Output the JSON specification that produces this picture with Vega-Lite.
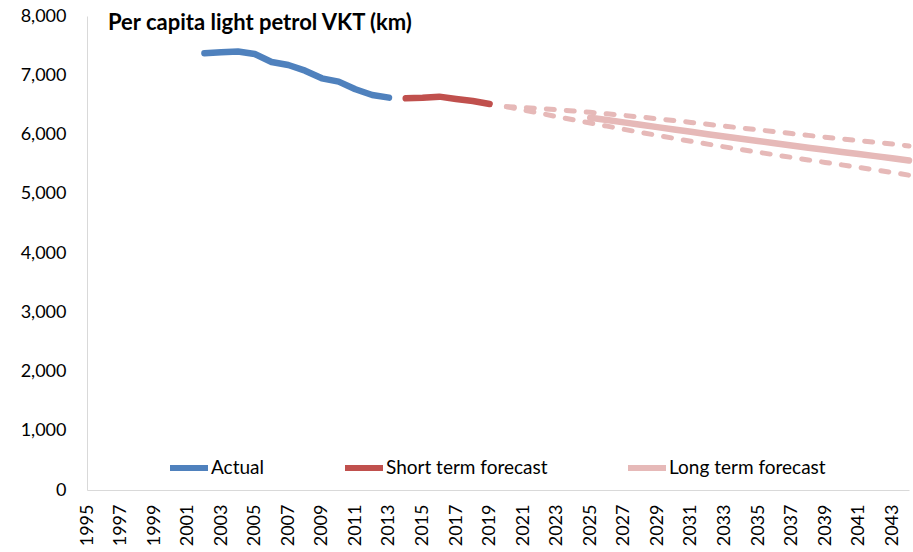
{
  "$schema": "https://vega.github.io/schema/vega-lite/v6.json",
  "width": 822,
  "height": 474,
  "autosize": {"type": "none"},
  "padding": {"left": 87, "top": 16, "right": 4, "bottom": 62},
  "background": "white",
  "title": {
    "text": "Per capita light petrol VKT (km)",
    "anchor": "start",
    "frame": "group",
    "orient": "top",
    "offset": -29,
    "baseline": "alphabetic",
    "dx": 21,
    "dy": 16,
    "font": "Lato",
    "fontSize": 22,
    "fontWeight": "bold",
    "color": "#000000"
  },
  "config": {
    "view": {"stroke": null},
    "font": "Lato"
  },
  "datasets": {
    "main": [
      {"year": 2002, "value": 7370, "series": "Actual"},
      {"year": 2003, "value": 7387, "series": "Actual"},
      {"year": 2004, "value": 7400, "series": "Actual"},
      {"year": 2005, "value": 7358, "series": "Actual"},
      {"year": 2006, "value": 7224, "series": "Actual"},
      {"year": 2007, "value": 7173, "series": "Actual"},
      {"year": 2008, "value": 7077, "series": "Actual"},
      {"year": 2009, "value": 6948, "series": "Actual"},
      {"year": 2010, "value": 6892, "series": "Actual"},
      {"year": 2011, "value": 6763, "series": "Actual"},
      {"year": 2012, "value": 6667, "series": "Actual"},
      {"year": 2013, "value": 6622, "series": "Actual"},
      {"year": 2014, "value": 6611, "series": "Short term forecast"},
      {"year": 2015, "value": 6620, "series": "Short term forecast"},
      {"year": 2016, "value": 6639, "series": "Short term forecast"},
      {"year": 2017, "value": 6600, "series": "Short term forecast"},
      {"year": 2018, "value": 6565, "series": "Short term forecast"},
      {"year": 2019, "value": 6515, "series": "Short term forecast"},
      {"year": 2025, "value": 6284, "series": "Long term forecast"},
      {"year": 2026, "value": 6245, "series": "Long term forecast"},
      {"year": 2027, "value": 6205, "series": "Long term forecast"},
      {"year": 2028, "value": 6165, "series": "Long term forecast"},
      {"year": 2029, "value": 6125, "series": "Long term forecast"},
      {"year": 2030, "value": 6085, "series": "Long term forecast"},
      {"year": 2031, "value": 6045, "series": "Long term forecast"},
      {"year": 2032, "value": 6005, "series": "Long term forecast"},
      {"year": 2033, "value": 5966, "series": "Long term forecast"},
      {"year": 2034, "value": 5928, "series": "Long term forecast"},
      {"year": 2035, "value": 5890, "series": "Long term forecast"},
      {"year": 2036, "value": 5852, "series": "Long term forecast"},
      {"year": 2037, "value": 5815, "series": "Long term forecast"},
      {"year": 2038, "value": 5778, "series": "Long term forecast"},
      {"year": 2039, "value": 5742, "series": "Long term forecast"},
      {"year": 2040, "value": 5706, "series": "Long term forecast"},
      {"year": 2041, "value": 5670, "series": "Long term forecast"},
      {"year": 2042, "value": 5635, "series": "Long term forecast"},
      {"year": 2043, "value": 5600, "series": "Long term forecast"},
      {"year": 2044, "value": 5560, "series": "Long term forecast"}
    ],
    "bands": [
      {"year": 2020, "value": 6470, "band": "upper"},
      {"year": 2021, "value": 6455, "band": "upper"},
      {"year": 2022, "value": 6440, "band": "upper"},
      {"year": 2023, "value": 6418, "band": "upper"},
      {"year": 2024, "value": 6397, "band": "upper"},
      {"year": 2025, "value": 6374, "band": "upper"},
      {"year": 2026, "value": 6349, "band": "upper"},
      {"year": 2027, "value": 6322, "band": "upper"},
      {"year": 2028, "value": 6295, "band": "upper"},
      {"year": 2029, "value": 6265, "band": "upper"},
      {"year": 2030, "value": 6235, "band": "upper"},
      {"year": 2031, "value": 6204, "band": "upper"},
      {"year": 2032, "value": 6172, "band": "upper"},
      {"year": 2033, "value": 6141, "band": "upper"},
      {"year": 2034, "value": 6110, "band": "upper"},
      {"year": 2035, "value": 6079, "band": "upper"},
      {"year": 2036, "value": 6047, "band": "upper"},
      {"year": 2037, "value": 6016, "band": "upper"},
      {"year": 2038, "value": 5985, "band": "upper"},
      {"year": 2039, "value": 5955, "band": "upper"},
      {"year": 2040, "value": 5925, "band": "upper"},
      {"year": 2041, "value": 5896, "band": "upper"},
      {"year": 2042, "value": 5868, "band": "upper"},
      {"year": 2043, "value": 5840, "band": "upper"},
      {"year": 2044, "value": 5807, "band": "upper"},
      {"year": 2020, "value": 6470, "band": "lower"},
      {"year": 2021, "value": 6415, "band": "lower"},
      {"year": 2022, "value": 6360, "band": "lower"},
      {"year": 2023, "value": 6302, "band": "lower"},
      {"year": 2024, "value": 6247, "band": "lower"},
      {"year": 2025, "value": 6194, "band": "lower"},
      {"year": 2026, "value": 6141, "band": "lower"},
      {"year": 2027, "value": 6088, "band": "lower"},
      {"year": 2028, "value": 6035, "band": "lower"},
      {"year": 2029, "value": 5985, "band": "lower"},
      {"year": 2030, "value": 5935, "band": "lower"},
      {"year": 2031, "value": 5886, "band": "lower"},
      {"year": 2032, "value": 5838, "band": "lower"},
      {"year": 2033, "value": 5791, "band": "lower"},
      {"year": 2034, "value": 5746, "band": "lower"},
      {"year": 2035, "value": 5701, "band": "lower"},
      {"year": 2036, "value": 5657, "band": "lower"},
      {"year": 2037, "value": 5614, "band": "lower"},
      {"year": 2038, "value": 5571, "band": "lower"},
      {"year": 2039, "value": 5529, "band": "lower"},
      {"year": 2040, "value": 5487, "band": "lower"},
      {"year": 2041, "value": 5444, "band": "lower"},
      {"year": 2042, "value": 5402, "band": "lower"},
      {"year": 2043, "value": 5360, "band": "lower"},
      {"year": 2044, "value": 5313, "band": "lower"}
    ]
  },
  "encoding": {
    "x": {
      "field": "year",
      "type": "quantitative",
      "scale": {"domain": [1995, 2044], "nice": false, "zero": false},
      "axis": {
        "title": null,
        "values": [1995,1997,1999,2001,2003,2005,2007,2009,2011,2013,2015,2017,2019,2021,2023,2025,2027,2029,2031,2033,2035,2037,2039,2041,2043],
        "format": "d",
        "labelAngle": 270,
        "labelAlign": "right",
        "labelBaseline": "middle",
        "labelPadding": 14,
        "labelFont": "Lato",
        "labelFontSize": 18,
        "labelColor": "#000000",
        "labelOverlap": false,
        "labelFlush": false,
        "ticks": false,
        "grid": false,
        "domainColor": "#D9D9D9",
        "domainWidth": 1
      }
    },
    "y": {
      "field": "value",
      "type": "quantitative",
      "scale": {"domain": [0, 8000], "nice": false},
      "axis": {
        "title": null,
        "values": [0,1000,2000,3000,4000,5000,6000,7000,8000],
        "format": ",.0f",
        "labelPadding": 21,
        "labelFont": "Lato",
        "labelFontSize": 18,
        "labelColor": "#000000",
        "labelOverlap": false,
        "labelFlush": false,
        "ticks": false,
        "grid": false,
        "domainColor": "#D9D9D9",
        "domainWidth": 1
      }
    }
  },
  "layer": [
    {
      "data": {"name": "bands"},
      "mark": {"type": "line", "strokeWidth": 5, "strokeDash": [8, 12], "strokeCap": "round", "color": "#E6B9B8"},
      "encoding": {"detail": {"field": "band", "type": "nominal"}}
    },
    {
      "data": {"name": "main"},
      "mark": {"type": "line", "strokeWidth": 6.5, "strokeCap": "round", "strokeJoin": "round"},
      "encoding": {
        "color": {
          "field": "series",
          "type": "nominal",
          "scale": {
            "domain": ["Actual", "Short term forecast", "Long term forecast"],
            "range": ["#4F81BD", "#C0504D", "#E6B9B8"]
          },
          "legend": {
            "title": null,
            "orient": "none",
            "legendX": 80,
            "legendY": 430,
            "direction": "horizontal",
            "columnPadding": 68,
            "symbolType": "stroke",
            "symbolSize": 1444,
            "symbolStrokeWidth": 6,
            "labelFont": "Lato",
            "labelFontSize": 19,
            "labelColor": "#000000",
            "labelOffset": 0,
            "labelLimit": 400
          }
        }
      }
    }
  ]
}
